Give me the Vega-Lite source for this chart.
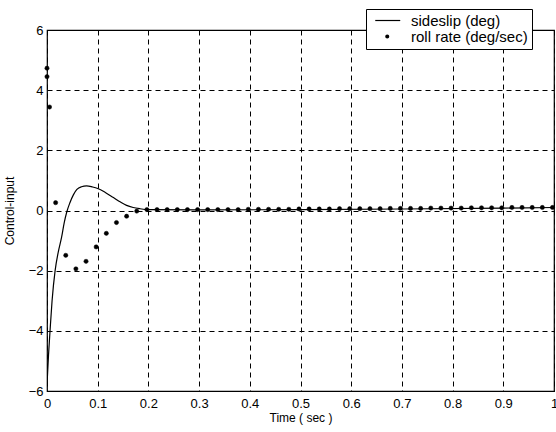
{
  "$schema": "https://vega.github.io/schema/vega-lite/v6.json",
  "autosize": "none",
  "width": 507,
  "height": 361,
  "padding": {"left": 47, "top": 30, "right": 2, "bottom": 41},
  "background": "white",
  "config": {
    "font": "Liberation Sans",
    "view": {"stroke": "black", "strokeWidth": 1.2},
    "axis": {
      "grid": true,
      "gridColor": "black",
      "gridDash": [5, 4],
      "gridOpacity": 1,
      "gridWidth": 1,
      "domain": false,
      "ticks": false,
      "labelFont": "Liberation Sans",
      "labelFontSize": 13,
      "labelColor": "black",
      "titleFont": "Liberation Sans",
      "titleFontSize": 12,
      "titleFontWeight": "normal",
      "titleColor": "black"
    }
  },
  "datasets": {
    "side": [
      {"t": 0.0, "v": -5.8},
      {"t": 0.003, "v": -4.8},
      {"t": 0.006, "v": -4.0},
      {"t": 0.01, "v": -3.0},
      {"t": 0.016, "v": -2.0},
      {"t": 0.022, "v": -1.4},
      {"t": 0.029, "v": -0.87},
      {"t": 0.034, "v": -0.4},
      {"t": 0.039, "v": -0.05},
      {"t": 0.045, "v": 0.25},
      {"t": 0.052, "v": 0.52},
      {"t": 0.059, "v": 0.7},
      {"t": 0.068, "v": 0.79},
      {"t": 0.078, "v": 0.82},
      {"t": 0.09, "v": 0.78},
      {"t": 0.1, "v": 0.73},
      {"t": 0.115, "v": 0.6},
      {"t": 0.131, "v": 0.43},
      {"t": 0.145, "v": 0.28},
      {"t": 0.157, "v": 0.17},
      {"t": 0.17, "v": 0.1},
      {"t": 0.183, "v": 0.06},
      {"t": 0.2, "v": 0.03},
      {"t": 0.3, "v": 0.02},
      {"t": 0.5, "v": 0.03},
      {"t": 0.7, "v": 0.05},
      {"t": 0.9, "v": 0.08},
      {"t": 1.0, "v": 0.1}
    ],
    "roll": [
      {"t": 0.0, "v": 4.73, "s": "roll rate (deg/sec)"},
      {"t": 0.0, "v": 4.45, "s": "roll rate (deg/sec)"},
      {"t": 0.005, "v": 3.44, "s": "roll rate (deg/sec)"},
      {"t": 0.017, "v": 0.26, "s": "roll rate (deg/sec)"},
      {"t": 0.037, "v": -1.49, "s": "roll rate (deg/sec)"},
      {"t": 0.057, "v": -1.94, "s": "roll rate (deg/sec)"},
      {"t": 0.077, "v": -1.69, "s": "roll rate (deg/sec)"},
      {"t": 0.097, "v": -1.21, "s": "roll rate (deg/sec)"},
      {"t": 0.117, "v": -0.76, "s": "roll rate (deg/sec)"},
      {"t": 0.137, "v": -0.4, "s": "roll rate (deg/sec)"},
      {"t": 0.157, "v": -0.19, "s": "roll rate (deg/sec)"},
      {"t": 0.177, "v": -0.02, "s": "roll rate (deg/sec)"},
      {"t": 0.197, "v": 0.03, "s": "roll rate (deg/sec)"},
      {"t": 0.217, "v": 0.03, "s": "roll rate (deg/sec)"},
      {"t": 0.237, "v": 0.03, "s": "roll rate (deg/sec)"},
      {"t": 0.257, "v": 0.03, "s": "roll rate (deg/sec)"},
      {"t": 0.277, "v": 0.03, "s": "roll rate (deg/sec)"},
      {"t": 0.297, "v": 0.03, "s": "roll rate (deg/sec)"},
      {"t": 0.317, "v": 0.03, "s": "roll rate (deg/sec)"},
      {"t": 0.337, "v": 0.03, "s": "roll rate (deg/sec)"},
      {"t": 0.357, "v": 0.03, "s": "roll rate (deg/sec)"},
      {"t": 0.377, "v": 0.03, "s": "roll rate (deg/sec)"},
      {"t": 0.397, "v": 0.04, "s": "roll rate (deg/sec)"},
      {"t": 0.417, "v": 0.04, "s": "roll rate (deg/sec)"},
      {"t": 0.437, "v": 0.04, "s": "roll rate (deg/sec)"},
      {"t": 0.457, "v": 0.04, "s": "roll rate (deg/sec)"},
      {"t": 0.477, "v": 0.04, "s": "roll rate (deg/sec)"},
      {"t": 0.497, "v": 0.05, "s": "roll rate (deg/sec)"},
      {"t": 0.517, "v": 0.05, "s": "roll rate (deg/sec)"},
      {"t": 0.537, "v": 0.05, "s": "roll rate (deg/sec)"},
      {"t": 0.557, "v": 0.05, "s": "roll rate (deg/sec)"},
      {"t": 0.577, "v": 0.06, "s": "roll rate (deg/sec)"},
      {"t": 0.597, "v": 0.06, "s": "roll rate (deg/sec)"},
      {"t": 0.617, "v": 0.06, "s": "roll rate (deg/sec)"},
      {"t": 0.637, "v": 0.06, "s": "roll rate (deg/sec)"},
      {"t": 0.657, "v": 0.06, "s": "roll rate (deg/sec)"},
      {"t": 0.677, "v": 0.07, "s": "roll rate (deg/sec)"},
      {"t": 0.697, "v": 0.07, "s": "roll rate (deg/sec)"},
      {"t": 0.717, "v": 0.07, "s": "roll rate (deg/sec)"},
      {"t": 0.737, "v": 0.07, "s": "roll rate (deg/sec)"},
      {"t": 0.757, "v": 0.08, "s": "roll rate (deg/sec)"},
      {"t": 0.777, "v": 0.08, "s": "roll rate (deg/sec)"},
      {"t": 0.797, "v": 0.08, "s": "roll rate (deg/sec)"},
      {"t": 0.817, "v": 0.08, "s": "roll rate (deg/sec)"},
      {"t": 0.837, "v": 0.09, "s": "roll rate (deg/sec)"},
      {"t": 0.857, "v": 0.09, "s": "roll rate (deg/sec)"},
      {"t": 0.877, "v": 0.09, "s": "roll rate (deg/sec)"},
      {"t": 0.897, "v": 0.09, "s": "roll rate (deg/sec)"},
      {"t": 0.917, "v": 0.1, "s": "roll rate (deg/sec)"},
      {"t": 0.937, "v": 0.1, "s": "roll rate (deg/sec)"},
      {"t": 0.957, "v": 0.1, "s": "roll rate (deg/sec)"},
      {"t": 0.977, "v": 0.1, "s": "roll rate (deg/sec)"},
      {"t": 0.997, "v": 0.1, "s": "roll rate (deg/sec)"}
    ]
  },
  "encoding": {
    "x": {
      "field": "t", "type": "quantitative",
      "scale": {"domain": [0, 1], "nice": false, "zero": false},
      "axis": {"values": [0, 0.1, 0.2, 0.3, 0.4, 0.5, 0.6, 0.7, 0.8, 0.9, 1], "labelFlush": false, "labelPadding": 6, "title": "Time ( sec )", "titlePadding": 2, "labelExpr": "datum.value == 0 ? '0' : datum.value == 1 ? '1' : format(datum.value, '.1f')"}
    },
    "y": {
      "field": "v", "type": "quantitative",
      "scale": {"domain": [-6, 6], "nice": false},
      "axis": {"values": [-6, -4, -2, 0, 2, 4, 6], "labelFlush": false, "labelPadding": 4, "title": "Control-input", "titlePadding": 12}
    }
  },
  "layer": [
    {
      "data": {"name": "side"},
      "mark": {"type": "line", "color": "black", "strokeWidth": 1.2, "interpolate": "monotone", "clip": true}
    },
    {
      "data": {"name": "roll"},
      "mark": {"type": "point", "shape": "circle", "filled": true, "fill": "black", "stroke": "black", "strokeWidth": 0.5, "opacity": 1, "size": 18}
    },
    {
      "data": {"name": "roll"},
      "mark": {"type": "point", "filled": true, "fill": "black", "opacity": 0, "size": 144},
      "encoding": {
        "shape": {
          "field": "s", "type": "nominal",
          "scale": {
            "domain": ["sideslip (deg)", "roll rate (deg/sec)"],
            "range": ["M-0.375,-0.1L3.79,-0.1L3.79,0.1L-0.375,0.1Z", "M1.29,0A0.333,0.333 0 1,1 1.96,0A0.333,0.333 0 1,1 1.29,0Z"]
          },
          "legend": {
            "title": null,
            "orient": "none",
            "legendX": 319,
            "legendY": -21,
            "strokeColor": "black",
            "fillColor": "white",
            "padding": 4,
            "symbolSize": 144,
            "symbolStrokeColor": "black",
            "symbolFillColor": "black",
            "symbolStrokeWidth": 0,
            "labelFont": "Liberation Sans",
            "labelFontSize": 15,
            "labelAlign": "left",
            "labelColor": "black",
            "labelOffset": 26,
            "rowPadding": -4,
            "labelLimit": 300,
            "encode": {
              "symbols": {"update": {"stroke": {"value": "black"}, "strokeWidth": {"value": 0.3}, "fill": {"value": "black"}, "opacity": {"value": 1}}}
            }
          }
        }
      }
    }
  ]
}
